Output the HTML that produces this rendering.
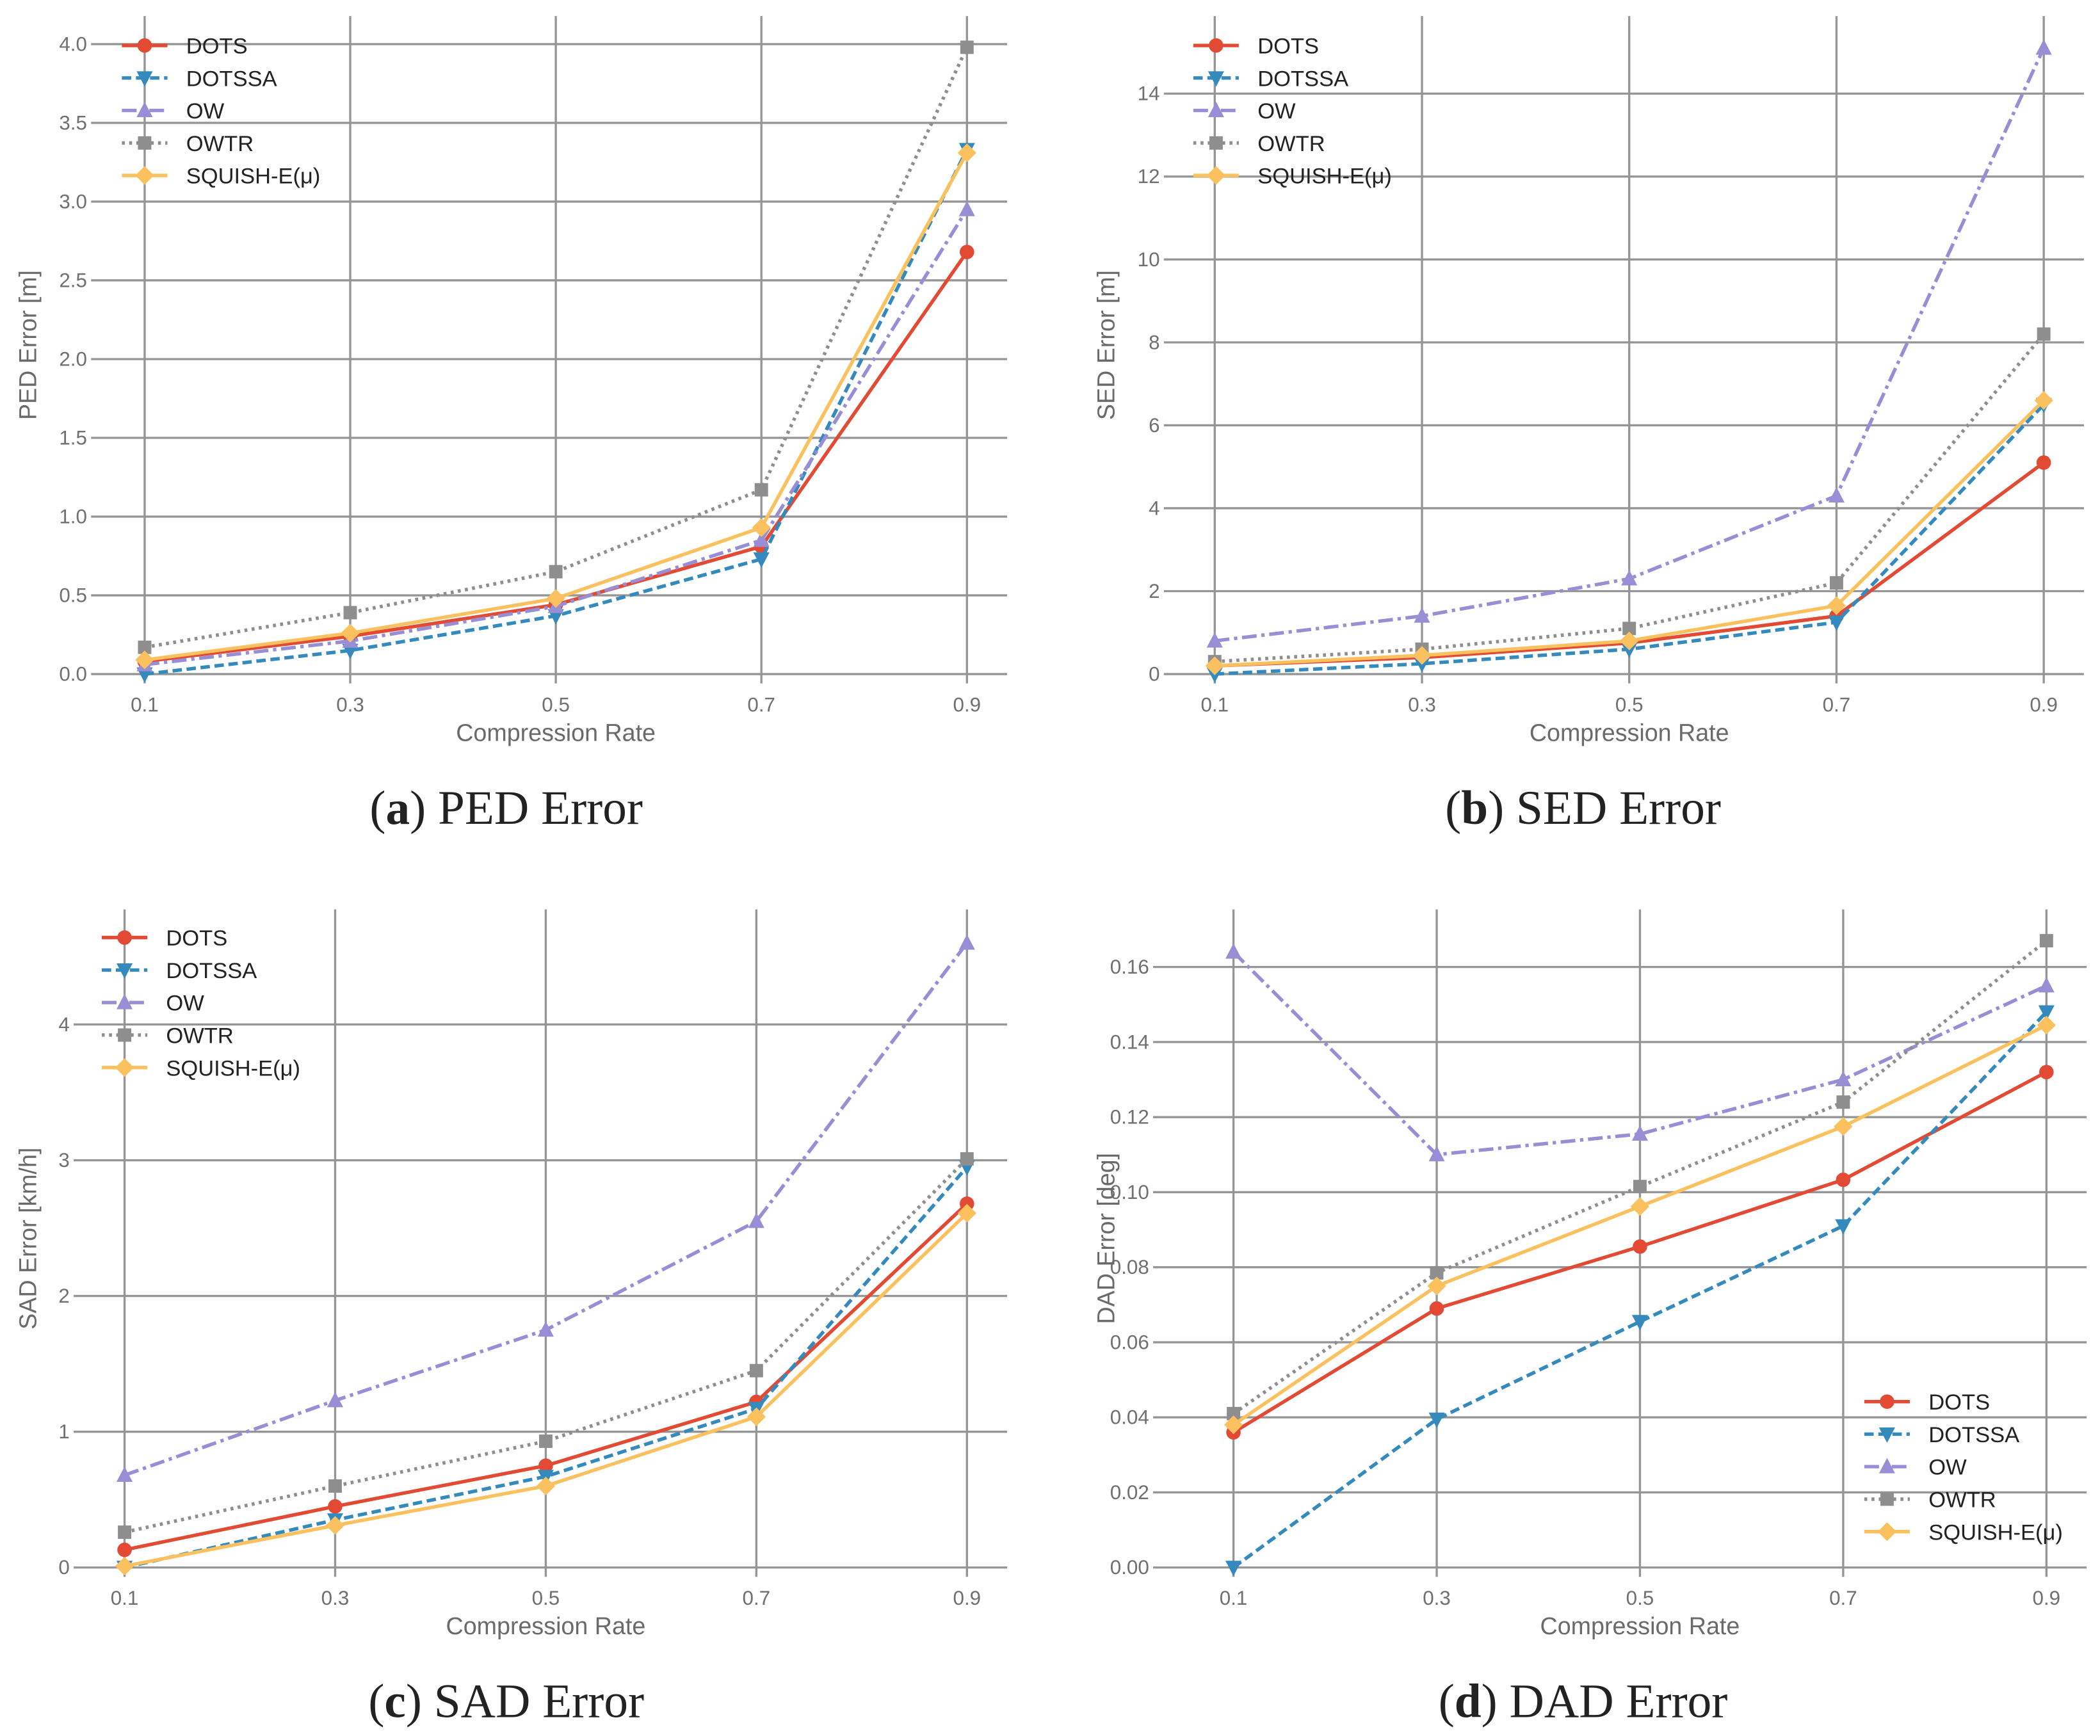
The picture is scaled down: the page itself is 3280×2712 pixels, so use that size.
<!DOCTYPE html>
<html><head><meta charset="utf-8"><style>
html,body{margin:0;padding:0;background:#fff;}
svg{display:block;}
text{font-family:"Liberation Sans",sans-serif;}
</style></head><body>
<svg id="fig" width="3280" height="2712" viewBox="0 0 1568 1298" preserveAspectRatio="none" xmlns="http://www.w3.org/2000/svg"></svg>
<script>
const categories = [0.1, 0.3, 0.5, 0.7, 0.9];
const seriesNames = ["DOTS", "DOTSSA", "OW", "OWTR", "SQUISH-E(μ)"];
// panel a: PED
const pedDOTS = [0.08, 0.24, 0.44, 0.81, 2.68];
const pedDOTSSA = [0.0, 0.15, 0.37, 0.73, 3.33];
const pedOW = [0.06, 0.21, 0.43, 0.85, 2.95];
const pedOWTR = [0.17, 0.39, 0.65, 1.17, 3.98];
const pedSQ = [0.09, 0.26, 0.48, 0.93, 3.31];
const pedTicks = [0, 0.5, 1.0, 1.5, 2.0, 2.5, 3.0, 3.5, 4.0];
const pedTickLabels = ["0.0","0.5","1.0","1.5","2.0","2.5","3.0","3.5","4.0"];
// panel b: SED
const sedDOTS = [0.2, 0.4, 0.75, 1.4, 5.1];
const sedDOTSSA = [0.0, 0.25, 0.6, 1.25, 6.5];
const sedOW = [0.8, 1.4, 2.3, 4.3, 15.1];
const sedOWTR = [0.3, 0.6, 1.1, 2.2, 8.2];
const sedSQ = [0.2, 0.45, 0.8, 1.65, 6.6];
const sedTicks = [0, 2, 4, 6, 8, 10, 12, 14];
const sedTickLabels = ["0","2","4","6","8","10","12","14"];
// panel c: SAD
const sadDOTS = [0.13, 0.45, 0.75, 1.22, 2.68];
const sadDOTSSA = [0.0, 0.35, 0.67, 1.17, 2.95];
const sadOW = [0.68, 1.23, 1.75, 2.55, 4.6];
const sadOWTR = [0.26, 0.6, 0.93, 1.45, 3.01];
const sadSQ = [0.01, 0.31, 0.6, 1.11, 2.61];
const sadTicks = [0, 1, 2, 3, 4];
const sadTickLabels = ["0","1","2","3","4"];
// panel d: DAD
const dadDOTS = [0.036, 0.069, 0.0855, 0.1033, 0.132];
const dadDOTSSA = [0.0, 0.0395, 0.0655, 0.091, 0.148];
const dadOW = [0.164, 0.110, 0.1155, 0.130, 0.155];
const dadOWTR = [0.041, 0.0785, 0.1015, 0.124, 0.167];
const dadSQ = [0.038, 0.075, 0.0962, 0.1175, 0.1445];
const dadTicks = [0, 0.02, 0.04, 0.06, 0.08, 0.10, 0.12, 0.14, 0.16];
const dadTickLabels = ["0.00","0.02","0.04","0.06","0.08","0.10","0.12","0.14","0.16"];

const styles = [
  {c:"#E24A33", dash:null, m:"circle"},
  {c:"#348ABD", dash:"7,3.5", m:"tridown"},
  {c:"#988ED5", dash:"11,3.5,2.5,3.5", m:"triup"},
  {c:"#8E8E8E", dash:"2.2,3.2", m:"square"},
  {c:"#FBC15E", dash:null, m:"diamond"}
];
const NS = "http://www.w3.org/2000/svg";
const svg = document.getElementById("fig");
function mk(tag, attrs, parent){
  const e = document.createElementNS(NS, tag);
  for (const k in attrs) e.setAttribute(k, attrs[k]);
  (parent||svg).appendChild(e);
  return e;
}
function marker(g, type, x, y, col, name){
  let e;
  const r = 5.4;
  if (type==="circle") e = mk("circle",{cx:x,cy:y,r:r,fill:col},g);
  else if (type==="square") e = mk("rect",{x:x-5,y:y-5,width:10,height:10,fill:col},g);
  else if (type==="diamond") e = mk("polygon",{points:`${x},${y-7} ${x+7},${y} ${x},${y+7} ${x-7},${y}`,fill:col},g);
  else if (type==="triup") e = mk("polygon",{points:`${x},${y-6.5} ${x+6},${y+5} ${x-6},${y+5}`,fill:col},g);
  else e = mk("polygon",{points:`${x},${y+6.5} ${x+6},${y-5} ${x-6},${y-5}`,fill:col},g);
  
  
}
function panel(cfg){
  const g = mk("g",{});
  
  
  const xs = v => cfg.x0 + (v - 0.1) / 0.8 * (cfg.x1 - cfg.x0);
  const ys = v => cfg.y0 - (v - cfg.vmin) / (cfg.vmax - cfg.vmin) * (cfg.y0 - cfg.y1);
  cfg.ticks.forEach((t,i)=>{
    const y = ys(t);
    const l = mk("line",{x1:cfg.left-7,x2:cfg.right,y1:y,y2:y,stroke:"#959595","stroke-width":1.6},g);
    
    
    const tx = mk("text",{x:cfg.left-10,y:y+5,"text-anchor":"end","font-size":15,fill:"#707070"},g);
    tx.textContent = cfg.tickLabels[i];
    
    
  });
  categories.forEach(c=>{
    const x = xs(c);
    const l = mk("line",{x1:x,x2:x,y1:cfg.top,y2:cfg.y0+7,stroke:"#959595","stroke-width":1.6},g);
    
    
    const tx = mk("text",{x:x,y:cfg.y0+28,"text-anchor":"middle","font-size":15,fill:"#707070"},g);
    tx.textContent = String(c);
    
    
  });
  const xl = mk("text",{x:(cfg.x0+cfg.x1)/2,y:cfg.y0+50,"text-anchor":"middle","font-size":18,fill:"#6a6a6a"},g);
  xl.textContent = "Compression Rate";
  
  
  const ym = (cfg.y0+cfg.top)/2;
  const yl = mk("text",{x:cfg.ylx,y:ym,"text-anchor":"middle","font-size":18,fill:"#6a6a6a",transform:`rotate(-90 ${cfg.ylx} ${ym})`},g);
  yl.textContent = cfg.ylabel;
  
  
  cfg.series.forEach((vals,si)=>{
    const st = styles[si];
    const sg = mk("g",{},g);
    
    
    const pts = vals.map((v,i)=>xs(categories[i])+","+ys(v)).join(" ");
    const pl = mk("polyline",{points:pts,fill:"none",stroke:st.c,"stroke-width":2.6,"stroke-linejoin":"round"},sg);
    if (st.dash) pl.setAttribute("stroke-dasharray", st.dash);
    
    
    vals.forEach((v,i)=>marker(sg, st.m, xs(categories[i]), ys(v), st.c, 'data-point'));
  });
  const lg = mk("g",{},g);
  
  
  seriesNames.forEach((n,i)=>{
    const st = styles[i];
    const y = cfg.ly + i*24.3;
    const eg = mk("g",{},lg);
    
    
    const l = mk("line",{x1:cfg.lx,x2:cfg.lx+34,y1:y,y2:y,stroke:st.c,"stroke-width":2.6},eg);
    if (st.dash) l.setAttribute("stroke-dasharray", st.dash);
    marker(eg, st.m, cfg.lx+17, y, st.c, 'legend-marker');
    const t = mk("text",{x:cfg.lx+48,y:y+6,"font-size":16.5,fill:"#222"},eg);
    t.textContent = n;
  });
  const cap = mk("text",{x:cfg.capx,y:cfg.y0+112,"text-anchor":"middle","font-size":36,fill:"#222"},g);
  
  
  cap.setAttribute("style","font-family:'Liberation Serif',serif");
  const b = document.createElementNS(NS,"tspan"); b.textContent = "("; cap.appendChild(b);
  const b2 = document.createElementNS(NS,"tspan"); b2.setAttribute("font-weight","bold"); b2.textContent = cfg.letter; cap.appendChild(b2);
  const b3 = document.createElementNS(NS,"tspan"); b3.textContent = ") " + cfg.caption; cap.appendChild(b3);
}
panel({id:"ped",x0:108,x1:722,left:75,right:752,top:12,y0:504,y1:33,vmin:0,vmax:4,ticks:pedTicks,tickLabels:pedTickLabels,
  ylabel:"PED Error [m]",ylx:27,series:[pedDOTS,pedDOTSSA,pedOW,pedOWTR,pedSQ],lx:91,ly:34,letter:"a",caption:"PED Error",capx:378});
panel({id:"sed",x0:907,x1:1526,left:876,right:1556,top:12,y0:504,y1:70,vmin:0,vmax:14,ticks:sedTicks,tickLabels:sedTickLabels,
  ylabel:"SED Error [m]",ylx:832,series:[sedDOTS,sedDOTSSA,sedOW,sedOWTR,sedSQ],lx:891,ly:34,letter:"b",caption:"SED Error",capx:1182});
panel({id:"sad",x0:93,x1:722,left:62,right:752,top:680,y0:1172,y1:766,vmin:0,vmax:4,ticks:sadTicks,tickLabels:sadTickLabels,
  ylabel:"SAD Error [km/h]",ylx:27,series:[sadDOTS,sadDOTSSA,sadOW,sadOWTR,sadSQ],lx:76,ly:701,letter:"c",caption:"SAD Error",capx:378});
panel({id:"dad",x0:921,x1:1528,left:868,right:1558,top:680,y0:1172,y1:723,vmin:0,vmax:0.16,ticks:dadTicks,tickLabels:dadTickLabels,
  ylabel:"DAD Error [deg]",ylx:832,series:[dadDOTS,dadDOTSSA,dadOW,dadOWTR,dadSQ],lx:1392,ly:1048,letter:"d",caption:"DAD Error",capx:1182});
</script>
</body></html>
